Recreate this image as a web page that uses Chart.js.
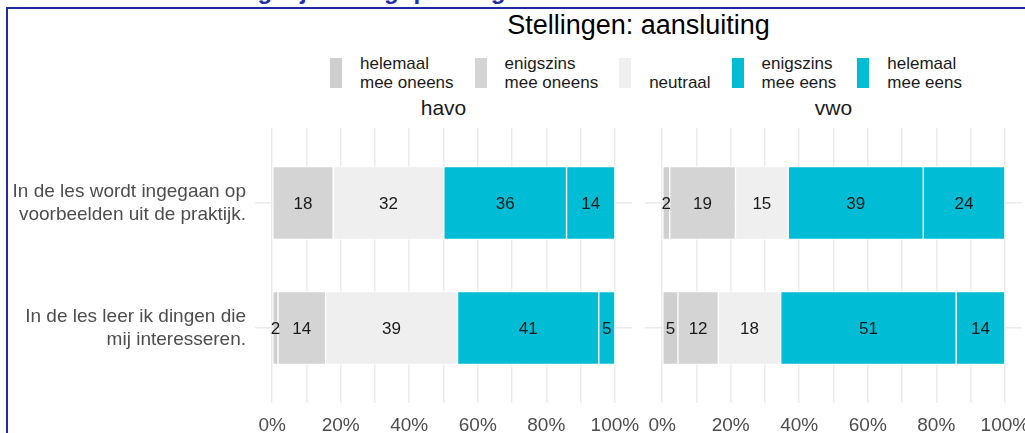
<!DOCTYPE html>
<html>
<head>
<meta charset="utf-8">
<script src="https://cdn.jsdelivr.net/npm/chart.js@4"></script>
<style>
  body { margin: 0; width: 1025px; height: 433px; overflow: hidden; background: #fff;
         position: relative; font-family: "Liberation Sans", Arial, sans-serif; }
  #heading { position: absolute; left: 8px; top: -21px; font-size: 24px; line-height: 24px;
             font-weight: bold; color: #1f2fae; white-space: nowrap; }
  #frame { position: absolute; left: 6px; top: 7px; width: 1100px; height: 500px;
           border-top: 2px solid #1d2ca3; border-left: 2px solid #1d2ca3; }
  #title { position: absolute; left: 255px; width: 767px; top: 10px; text-align: center;
           font-size: 27px; line-height: 30px; color: #000; }
  #legend { position: absolute; left: 330px; top: 54px; display: flex; align-items: center; }
  .item { display: flex; align-items: center; margin-right: 21px; }
  .box { width: 12px; height: 30px; }
  .lab { margin-left: 18px; font-size: 17px; line-height: 19px; color: #1a1a1a; white-space: pre; }
  .strip { position: absolute; top: 96px; width: 377px; text-align: center;
           font-size: 21px; line-height: 24px; color: #1a1a1a; }
  .wrap { position: absolute; top: 0; }
</style>
</head>
<body>
<div id="heading">Resultaten: aansluiting bij vervolgopleiding</div>
<div id="frame"></div>
<div id="title">Stellingen: aansluiting</div>
<div id="legend"></div>
<div class="strip" style="left:255px">havo</div>
<div class="strip" style="left:645px">vwo</div>
<div class="wrap" style="left:0"><canvas id="havoChart" width="640" height="433"></canvas></div>
<div class="wrap" style="left:640px"><canvas id="vwoChart" width="385" height="433"></canvas></div>
<script>
const statements = [
  ['In de les wordt ingegaan op', 'voorbeelden uit de praktijk.'],
  ['In de les leer ik dingen die', 'mij interesseren.']
];
const answers = [
  ['helemaal', 'mee oneens'],
  ['enigszins', 'mee oneens'],
  ['', 'neutraal'],
  ['enigszins', 'mee eens'],
  ['helemaal', 'mee eens']
];
const answerColors = ['#cfcfcf', '#d4d4d4', '#efefef', '#00bcd4', '#00bcd4'];

// percentages: one row per answer, one column per statement
const havo = [
  [0, 1.7],
  [17.8, 13.9],
  [32.3, 38.5],
  [35.8, 41.2],
  [14.1, 4.7]
];
const vwo = [
  [2.2, 4.6],
  [19.2, 11.8],
  [15.4, 18.2],
  [39.4, 51.2],
  [23.8, 14.2]
];

const gridTicks = [0, 10, 20, 30, 40, 50, 60, 70, 80, 90, 100];
const tickLabels = { 0: '0%', 20: '20%', 40: '40%', 60: '60%', 80: '80%', 100: '100%' };

// legend
const legend = document.getElementById('legend');
answers.forEach((a, i) => {
  const item = document.createElement('div');
  item.className = 'item';
  item.innerHTML = '<div class="box" style="background:' + answerColors[i] + '"></div>' +
                   '<div class="lab">' + a.join('\n') + '</div>';
  legend.appendChild(item);
});

const barLabels = {
  id: 'barLabels',
  afterDatasetsDraw(chart) {
    const ctx = chart.ctx;
    ctx.save();
    ctx.font = '17px "Liberation Sans", Arial, sans-serif';
    ctx.fillStyle = '#1a1a1a';
    ctx.textAlign = 'center';
    ctx.textBaseline = 'middle';
    chart.data.datasets.forEach((ds, i) => {
      chart.getDatasetMeta(i).data.forEach((bar, j) => {
        const v = ds.data[j].x;
        if (!v) return;
        ctx.fillText(Math.round(v), (bar.x + bar.base) / 2, bar.y + 1);
      });
    });
    ctx.restore();
  }
};

function makeChart(id, values, showLabels, yWidth, padRight) {
  const axisFont = { family: '"Liberation Sans", Arial, sans-serif', size: 19 };
  new Chart(document.getElementById(id), {
    type: 'bar',
    data: {
      datasets: answers.map((a, i) => ({
        label: a.join(' ').trim(),
        data: values[i].map((v, j) => ({ x: v, y: j + 1 })),
        backgroundColor: answerColors[i],
        borderColor: '#ffffff',
        borderWidth: 1,
        borderSkipped: false,
        barThickness: 73
      }))
    },
    options: {
      indexAxis: 'y',
      responsive: false,
      animation: false,
      layout: { padding: { top: 128, right: padRight, bottom: 0, left: 0 } },
      plugins: { legend: { display: false }, tooltip: { enabled: false } },
      scales: {
        x: {
          type: 'linear', min: -5, max: 105, stacked: true,
          afterBuildTicks: s => { s.ticks = gridTicks.map(v => ({ value: v })); },
          afterFit: s => { s.height = 30; s.paddingLeft = 0; s.paddingRight = 0; },
          grid: { color: '#ebebeb', lineWidth: 1.5, drawTicks: false },
          border: { display: false },
          ticks: {
            padding: 11, color: '#4d4d4d', font: axisFont, autoSkip: false, maxRotation: 0,
            callback: v => tickLabels[v] || ''
          }
        },
        y: {
          type: 'linear', min: 0.4, max: 2.6, reverse: true, stacked: true, offset: false,
          afterBuildTicks: s => { s.ticks = statements.map((st, j) => ({ value: j + 1 })); },
          afterFit: s => { s.width = yWidth; s.paddingTop = 0; s.paddingBottom = 0; },
          grid: { color: '#ebebeb', lineWidth: 1.5, drawTicks: false, offset: false },
          border: { display: false },
          ticks: {
            display: showLabels, padding: 9, color: '#4d4d4d', font: axisFont,
            callback: v => statements[Math.round(v) - 1]
          }
        }
      }
    },
    plugins: [barLabels]
  });
}

makeChart('havoChart', havo, true, 255, 8);
makeChart('vwoChart', vwo, false, 5, 3);
</script>
</body>
</html>
